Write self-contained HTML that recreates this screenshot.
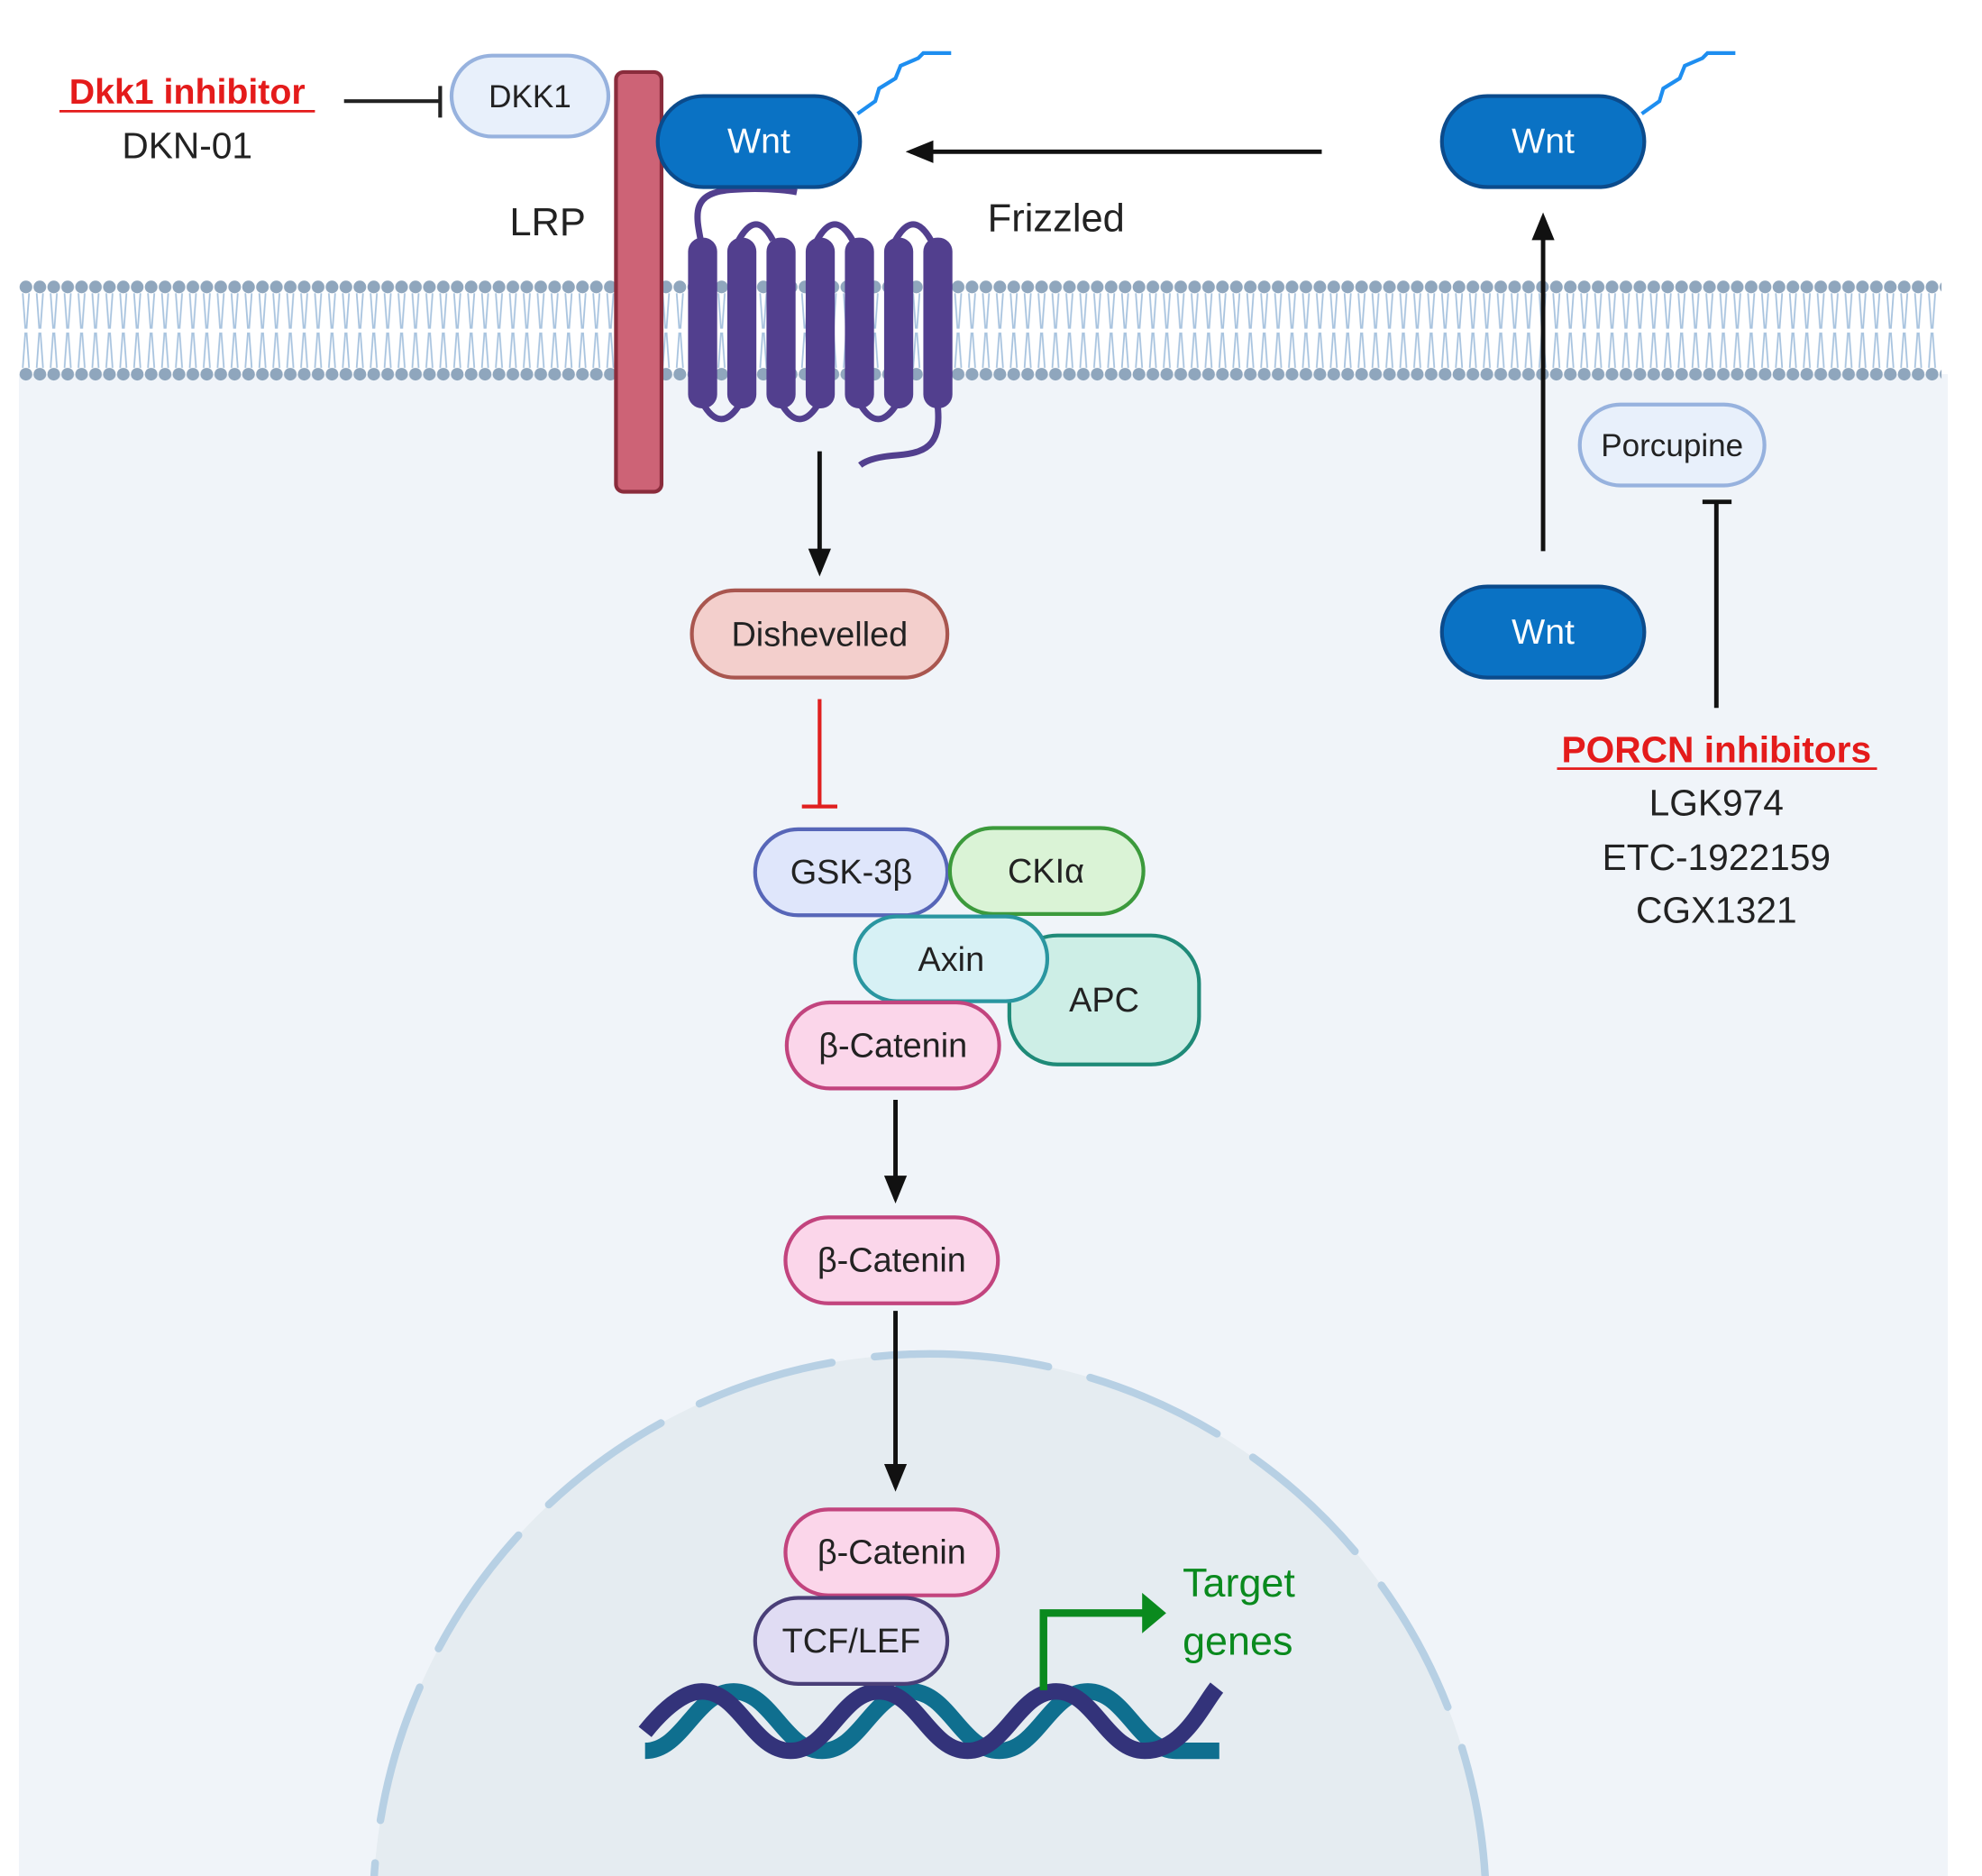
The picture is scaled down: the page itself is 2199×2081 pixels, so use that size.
<!DOCTYPE html>
<html><head><meta charset="utf-8"><style>html,body{margin:0;padding:0;background:#fff;width:2199px;height:2081px;overflow:hidden}svg{display:block}</style></head><body>
<svg width="2199" height="2081" viewBox="0 0 1567 1484" preserveAspectRatio="none" xmlns="http://www.w3.org/2000/svg" font-family="Liberation Sans, sans-serif">
<defs>
<pattern id="mem" x="15" y="0" width="11" height="1484" patternUnits="userSpaceOnUse">
<path d="M3,232 L5,260 M8,232 L6,260 M3,291 L5,263 M8,291 L6,263" stroke="#a9c4df" stroke-width="1.3" fill="none"/>
<circle cx="5.5" cy="227" r="5" fill="#8fa6bd"/>
<circle cx="5.5" cy="296" r="5" fill="#8fa6bd"/>
</pattern>
<marker id="ah" markerWidth="22" markerHeight="22" refX="18" refY="11" orient="auto" markerUnits="userSpaceOnUse"><path d="M0,2 L22,11 L0,20 z" fill="#111"/></marker>
</defs>
<rect x="15" y="296" width="1525" height="1188" fill="#f0f4f9"/>
<rect x="15" y="220" width="1520" height="82" fill="url(#mem)"/>
<!-- nucleus -->
<circle cx="735" cy="1511" r="440" fill="#e5ecf1"/>
<g transform="rotate(-92 735 1511)">
<circle cx="735" cy="1511" r="440" fill="none" stroke="#b7d0e4" stroke-width="6" stroke-dasharray="110 34" stroke-linecap="round"/>
</g>
<!-- LRP -->
<rect x="487" y="57" width="36" height="332" rx="6" fill="#cd6376" stroke="#8a2c3c" stroke-width="3"/>
<!-- Frizzled -->
<g fill="none" stroke="#523f8e" stroke-width="5">
<path d="M555,195 C550,170 545,152 580,150 C610,148 630,152 630,152"/>
<path d="M584,190 Q598,165 611,190 M646,190 Q660,165 674,190 M708,190 Q722,165 736,190"/>
<path d="M555,318 Q570,345 586,318 M617,318 Q632,345 648,318 M679,318 Q694,345 710,318"/>
<path d="M741,318 C745,350 735,358 710,360 C695,361 685,364 680,368"/>
</g>
<g fill="#523f8e">
<rect x="544" y="188" width="23" height="135" rx="11"/><rect x="575" y="188" width="23" height="135" rx="11"/>
<rect x="606" y="188" width="23" height="135" rx="11"/><rect x="637" y="188" width="23" height="135" rx="11"/>
<rect x="668" y="188" width="23" height="135" rx="11"/><rect x="699" y="188" width="23" height="135" rx="11"/>
<rect x="730" y="188" width="23" height="135" rx="11"/>
</g>
<!-- Wnt -->
<path d="M678,90 L692,80 L695,70 L708,62 L712,52 L726,46 L730,42 L752,42" fill="none" stroke="#1e8ef0" stroke-width="3"/>
<path d="M1298,90 L1312,80 L1315,70 L1328,62 L1332,52 L1346,46 L1350,42 L1372,42" fill="none" stroke="#1e8ef0" stroke-width="3"/>
<g fill="#0a72c4" stroke="#0b4b8c" stroke-width="3">
<rect x="520" y="76" width="160" height="72" rx="36"/>
<rect x="1140" y="76" width="160" height="72" rx="36"/>
<rect x="1140" y="464" width="160" height="72" rx="36"/>
</g>
<g fill="#fff" font-size="28" text-anchor="middle">
<text x="600" y="121">Wnt</text><text x="1220" y="121">Wnt</text><text x="1220" y="509">Wnt</text>
</g>
<!-- DKK1 -->
<rect x="357" y="44" width="124" height="64" rx="32" fill="#e8f0fb" stroke="#97b2de" stroke-width="3"/>
<text x="419" y="85" font-size="25" text-anchor="middle" fill="#222">DKK1</text>
<line x1="272" y1="80" x2="348" y2="80" stroke="#222" stroke-width="3"/><line x1="348" y1="68" x2="348" y2="93" stroke="#222" stroke-width="3"/>
<text x="148" y="82" font-size="28" font-weight="bold" fill="#e41b1b" text-anchor="middle">Dkk1 inhibitor</text>
<line x1="47" y1="88" x2="249" y2="88" stroke="#e41b1b" stroke-width="2"/>
<text x="148" y="125" font-size="29" fill="#222" text-anchor="middle">DKN-01</text>
<text x="433" y="186" font-size="31" fill="#222" text-anchor="middle">LRP</text>
<text x="835" y="183" font-size="31" fill="#222" text-anchor="middle">Frizzled</text>
<!-- arrows -->
<g stroke="#111" stroke-width="3.5">
<line x1="1045" y1="120" x2="720" y2="120" marker-end="url(#ah)"/>
<line x1="1220" y1="436" x2="1220" y2="172" marker-end="url(#ah)"/>
<line x1="648" y1="357" x2="648" y2="452" marker-end="url(#ah)"/>
<line x1="708" y1="870" x2="708" y2="948" marker-end="url(#ah)"/>
<line x1="708" y1="1037" x2="708" y2="1176" marker-end="url(#ah)"/>
<line x1="1357" y1="560" x2="1357" y2="397"/><line x1="1346" y1="397" x2="1369" y2="397"/>
</g>
<line x1="648" y1="553" x2="648" y2="638" stroke="#e02020" stroke-width="3"/>
<line x1="634" y1="638" x2="662" y2="638" stroke="#e02020" stroke-width="3"/>
<!-- Porcupine -->
<rect x="1249" y="320" width="146" height="64" rx="32" fill="#e8f0fb" stroke="#97b2de" stroke-width="3"/>
<text x="1322" y="361" font-size="25" text-anchor="middle" fill="#222">Porcupine</text>
<text x="1357" y="603" font-size="29" font-weight="bold" fill="#e41b1b" text-anchor="middle">PORCN inhibitors</text>
<line x1="1231" y1="608" x2="1484" y2="608" stroke="#e41b1b" stroke-width="2"/>
<g font-size="29" fill="#222" text-anchor="middle">
<text x="1357" y="645">LGK974</text><text x="1357" y="688">ETC-1922159</text><text x="1357" y="730">CGX1321</text>
</g>
<!-- Dishevelled -->
<rect x="547" y="467" width="202" height="69" rx="34" fill="#f3cfcc" stroke="#a9564f" stroke-width="3"/>
<text x="648" y="511" font-size="27" text-anchor="middle" fill="#222">Dishevelled</text>
<!-- complex -->
<rect x="798" y="740" width="150" height="102" rx="38" fill="#cdeee6" stroke="#1f8a78" stroke-width="3"/>
<text x="873" y="800" font-size="27" text-anchor="middle" fill="#222">APC</text>
<rect x="597" y="656" width="152" height="68" rx="34" fill="#dfe6fb" stroke="#5766b8" stroke-width="3"/>
<text x="673" y="699" font-size="27" text-anchor="middle" fill="#222">GSK-3β</text>
<rect x="751" y="655" width="153" height="68" rx="34" fill="#daf3d6" stroke="#3c9a3c" stroke-width="3"/>
<text x="827" y="698" font-size="27" text-anchor="middle" fill="#222">CKIα</text>
<rect x="676" y="725" width="152" height="67" rx="33" fill="#d7f1f5" stroke="#2a96a0" stroke-width="3"/>
<text x="752" y="768" font-size="27" text-anchor="middle" fill="#222">Axin</text>
<g fill="#fbd6ea" stroke="#c2447e" stroke-width="3">
<rect x="622" y="793" width="168" height="68" rx="34"/>
<rect x="621" y="963" width="168" height="68" rx="34"/>
<rect x="621" y="1194" width="168" height="68" rx="34"/>
</g>
<g font-size="27" text-anchor="middle" fill="#222">
<text x="706" y="836">β-Catenin</text><text x="705" y="1006">β-Catenin</text><text x="705" y="1237">β-Catenin</text>
</g>
<!-- DNA -->
<g fill="none" stroke-width="13">
<path d="M510,1385 C540,1385 550,1338 580,1338 C610,1338 620,1385 650,1385 C680,1385 690,1338 720,1338 C750,1338 760,1385 790,1385 C820,1385 830,1338 860,1338 C890,1338 900,1385 930,1385 C945,1385 955,1385 964,1385" stroke="#0f6f8f"/>
<path d="M510,1370 C530,1345 545,1338 555,1338 C585,1338 595,1385 625,1385 C655,1385 665,1338 695,1338 C725,1338 735,1385 765,1385 C795,1385 805,1338 835,1338 C865,1338 875,1385 905,1385 C935,1385 950,1350 962,1335" stroke="#33337a"/>
</g>
<rect x="597" y="1264" width="152" height="68" rx="34" fill="#e0dcf3" stroke="#4a3f78" stroke-width="3"/>
<text x="673" y="1307" font-size="27" text-anchor="middle" fill="#222">TCF/LEF</text>
<path d="M825,1337 L825,1276 L905,1276" fill="none" stroke="#0a8a1e" stroke-width="6"/>
<path d="M903,1260 L922,1276 L903,1292 z" fill="#0a8a1e"/>
<text x="935" y="1263" font-size="32" fill="#0a8a1e">Target</text>
<text x="935" y="1309" font-size="32" fill="#0a8a1e">genes</text>
</svg>
</body></html>
